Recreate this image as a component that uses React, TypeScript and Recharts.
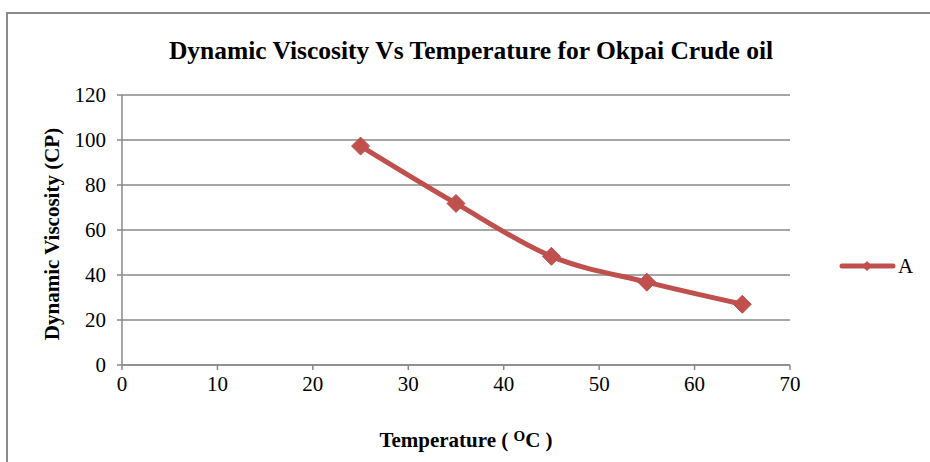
import React from "react";
import {
  LineChart,
  Line,
  XAxis,
  YAxis,
  CartesianGrid,
  Customized,
} from "recharts";

const temperatures = [25, 35, 45, 55, 65];
const viscosityA = [97.3, 71.8, 48.3, 36.8, 27];
const xTicks = [0, 10, 20, 30, 40, 50, 60, 70];
const yTicks = [0, 20, 40, 60, 80, 100, 120];

const data = temperatures.map((t, i) => ({ temp: t, A: viscosityA[i] }));

const RED = "#C0504D";
const GRID = "#888888";
const FONT = '"Liberation Serif", "Times New Roman", serif';

const Diamond = (props: any) => {
  const { cx, cy } = props;
  if (cx == null || cy == null) return null;
  const r = 9;
  return (
    <path
      d={`M${cx},${cy - r} L${cx + r},${cy} L${cx},${cy + r} L${cx - r},${cy} Z`}
      fill={RED}
      stroke={RED}
      strokeWidth={1}
      strokeLinejoin="round"
    />
  );
};

export default function App() {
  return (
    <div style={{ position: "absolute", left: 0, top: 0, width: 930, height: 462, background: "#fff" }}>
      <div
        style={{
          position: "absolute",
          left: 6,
          top: 12,
          width: 940,
          height: 470,
          borderLeft: "2px solid #8a8a8a",
          borderTop: "2px solid #8a8a8a",
          boxSizing: "border-box",
        }}
      />
      <div style={{ position: "absolute", left: 0, top: 0 }}>
        <LineChart
          width={930}
          height={462}
          data={data}
          margin={{ top: 95, right: 140, bottom: 67, left: 62 }}
        >
          <CartesianGrid vertical={false} stroke={GRID} strokeWidth={1.5} />
          <XAxis
            dataKey="temp"
            type="number"
            domain={[0, 70]}
            ticks={xTicks}
            height={30}
            stroke={GRID}
            strokeWidth={1.5}
            tickSize={5}
            tickMargin={6}
            tick={{ fontFamily: FONT, fontSize: 21, fill: "#000" }}
            interval={0}
          />
          <YAxis
            type="number"
            domain={[0, 120]}
            ticks={yTicks}
            width={60}
            stroke={GRID}
            strokeWidth={1.5}
            tickSize={5}
            tickMargin={11}
            tick={{ fontFamily: FONT, fontSize: 21, fill: "#000" }}
            interval={0}
          />
          <Line
            type="monotone"
            dataKey="A"
            stroke={RED}
            strokeWidth={5}
            dot={<Diamond />}
            activeDot={false}
            isAnimationActive={false}
          />
          <Customized
            component={() => (
              <g fontFamily={FONT} fontWeight="bold" fill="#000">
                <text x={471} y={59} textAnchor="middle" fontSize={25.5}>
                  Dynamic Viscosity Vs Temperature for Okpai Crude oil
                </text>
                <text
                  x={59}
                  y={234}
                  textAnchor="middle"
                  fontSize={21}
                  transform="rotate(-90 59 234)"
                >
                  Dynamic Viscosity (CP)
                </text>
                <text x={466} y={447} textAnchor="middle" fontSize={21}>
                  Temperature ( <tspan fontSize={15} dy={-6}>O</tspan>
                  <tspan dy={6}>C )</tspan>
                </text>
                <g>
                  <line x1={842} y1={266} x2={893} y2={266} stroke={RED} strokeWidth={5} strokeLinecap="round" />
                  <path d="M867,261 L872,266 L867,271 L862,266 Z" fill={RED} />
                  <text x={898} y={273} fontSize={21} fontWeight="normal">
                    A
                  </text>
                </g>
              </g>
            )}
          />
        </LineChart>
      </div>
    </div>
  );
}
